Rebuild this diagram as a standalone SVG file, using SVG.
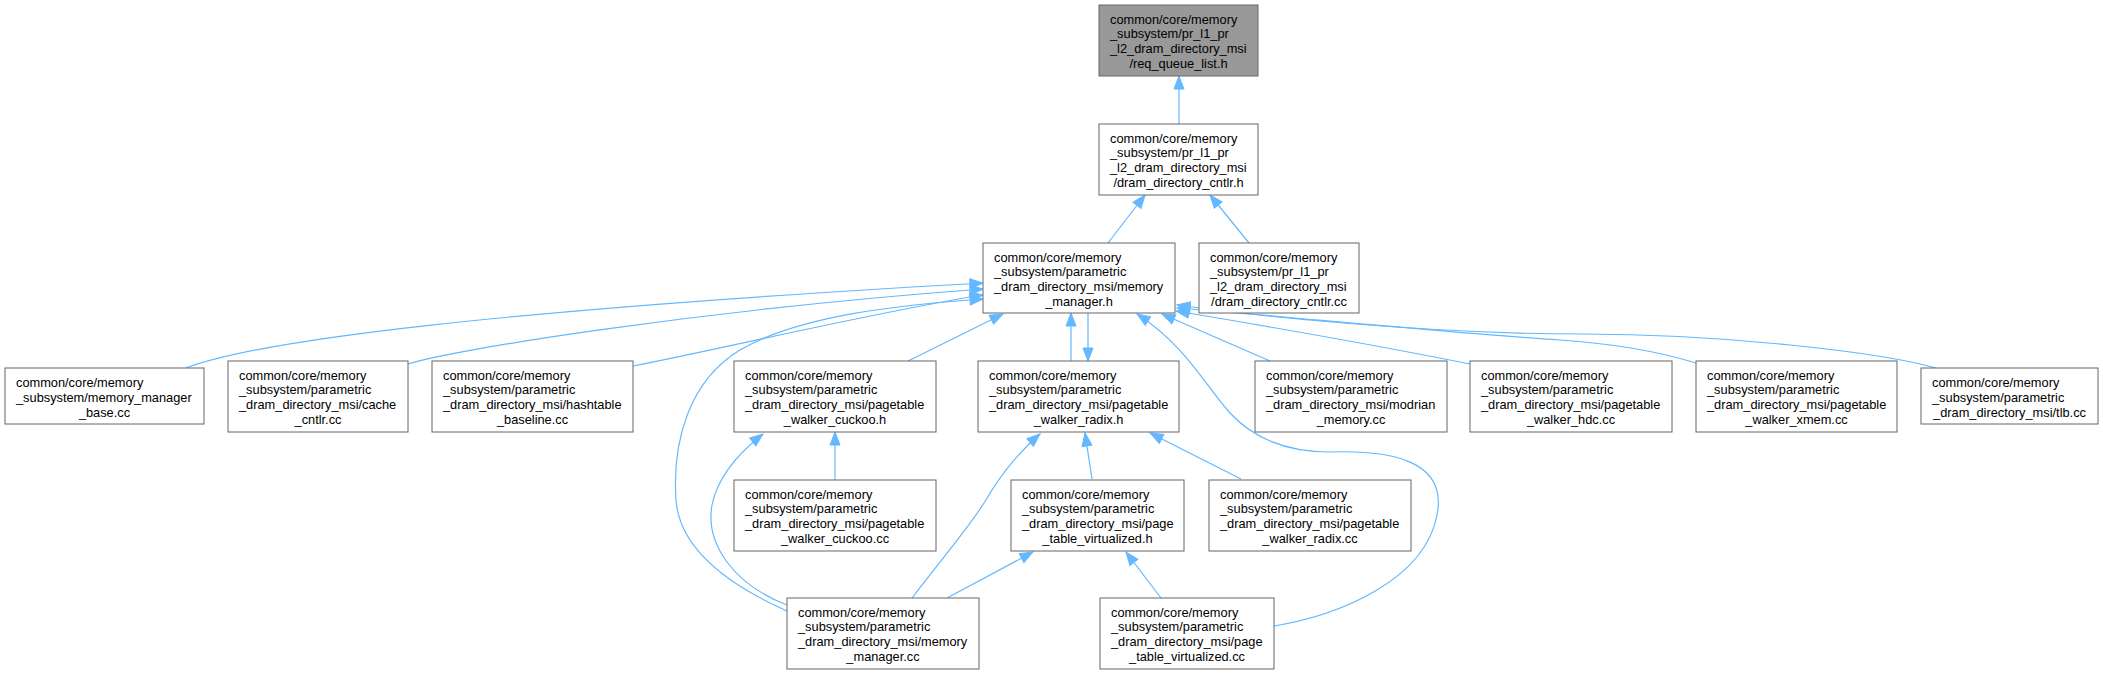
<svg xmlns="http://www.w3.org/2000/svg" width="2103" height="675" viewBox="0 0 2103 675">
<defs>
<style>
.n rect{fill:#ffffff;stroke:#666666;stroke-width:1}
.n.g rect{fill:#999999}
.n text{font-family:"Liberation Sans",Arial,Helvetica,sans-serif;font-size:12.8px;fill:#000000}
.c{text-anchor:middle}
#edges path{fill:none;stroke:#63b8ff;stroke-width:1.2;marker-end:url(#ah)}
</style>
<marker id="ah" markerUnits="userSpaceOnUse" markerWidth="14" markerHeight="11" refX="13" refY="5" orient="auto" overflow="visible">
<path d="M0,0 L13,5 L0,10 z" fill="#63b8ff" stroke="#63b8ff" stroke-width="1"/>
</marker>
</defs>
<rect x="0" y="0" width="2103" height="675" fill="#ffffff"/>

<g id="edges">
<path d="M1179,124 L1179,76"/>
<path d="M1108,243 L1145,195"/>
<path d="M1249,243 L1210,195"/>
<path d="M186,368 C260,340 500,310 983,283"/>
<path d="M408,364 C450,350 700,310 983,289"/>
<path d="M633,366 C730,347 880,311 983,295"/>
<path d="M787,611 C740,590 680,555 676,500 C672,440 690,380 740,350 C800,315 900,305 983,299"/>
<path d="M908,361 L1003,314"/>
<path d="M1071,361 L1071,313"/>
<path d="M1088,313 L1088,361"/>
<path d="M1274,626 C1340,615 1425,580 1437,515 C1448,460 1390,450 1330,452 C1290,452 1255,440 1230,413 C1205,385 1185,345 1137,314"/>
<path d="M1270,361 L1162,314"/>
<path d="M1470,364 C1400,350 1260,325 1176,311"/>
<path d="M1696,363 C1660,352 1620,344 1560,340 C1450,333 1260,314 1177,308"/>
<path d="M1936,368 C1880,352 1720,334 1583,334 C1420,334 1250,315 1177,305"/>
<path d="M835,480 L835,432"/>
<path d="M787,605 C735,585 705,545 712,505 C718,475 740,452 763,434"/>
<path d="M912,598 C945,555 975,520 992,490 C1010,462 1025,447 1040,434"/>
<path d="M1092,479 L1085,433"/>
<path d="M1241,479 L1150,433"/>
<path d="M947,598 L1033,552"/>
<path d="M1161,598 L1126,552"/>
</g>

<g id="n_req" class="n g">
<rect x="1099" y="5" width="159" height="71"/>
<text><tspan x="1110" y="23.5">common/core/memory</tspan><tspan x="1110" y="38.4">_subsystem/pr_l1_pr</tspan><tspan x="1110" y="53.3">_l2_dram_directory_msi</tspan><tspan class="c" x="1178.5" y="68.2">/req_queue_list.h</tspan></text>
</g>
<g id="n_ddc_h" class="n">
<rect x="1099" y="124" width="159" height="71"/>
<text><tspan x="1110" y="142.5">common/core/memory</tspan><tspan x="1110" y="157.4">_subsystem/pr_l1_pr</tspan><tspan x="1110" y="172.3">_l2_dram_directory_msi</tspan><tspan class="c" x="1178.5" y="187.2">/dram_directory_cntlr.h</tspan></text>
</g>
<g id="n_mm_h" class="n">
<rect x="983" y="243" width="192" height="70"/>
<text><tspan x="994" y="261.5">common/core/memory</tspan><tspan x="994" y="276.4">_subsystem/parametric</tspan><tspan x="994" y="291.3">_dram_directory_msi/memory</tspan><tspan class="c" x="1079" y="306.2">_manager.h</tspan></text>
</g>
<g id="n_ddc_cc" class="n">
<rect x="1199" y="243" width="160" height="70"/>
<text><tspan x="1210" y="261.5">common/core/memory</tspan><tspan x="1210" y="276.4">_subsystem/pr_l1_pr</tspan><tspan x="1210" y="291.3">_l2_dram_directory_msi</tspan><tspan class="c" x="1279" y="306.2">/dram_directory_cntlr.cc</tspan></text>
</g>
<g id="n_mmb" class="n">
<rect x="5" y="368" width="199" height="56"/>
<text><tspan x="16" y="387">common/core/memory</tspan><tspan x="16" y="402">_subsystem/memory_manager</tspan><tspan class="c" x="104.5" y="417">_base.cc</tspan></text>
</g>
<g id="n_cache" class="n">
<rect x="228" y="361" width="180" height="71"/>
<text><tspan x="239" y="379.5">common/core/memory</tspan><tspan x="239" y="394.4">_subsystem/parametric</tspan><tspan x="239" y="409.3">_dram_directory_msi/cache</tspan><tspan class="c" x="318" y="424.2">_cntlr.cc</tspan></text>
</g>
<g id="n_hash" class="n">
<rect x="432" y="361" width="201" height="71"/>
<text><tspan x="443" y="379.5">common/core/memory</tspan><tspan x="443" y="394.4">_subsystem/parametric</tspan><tspan x="443" y="409.3">_dram_directory_msi/hashtable</tspan><tspan class="c" x="532.5" y="424.2">_baseline.cc</tspan></text>
</g>
<g id="n_ck_h" class="n">
<rect x="734" y="361" width="202" height="71"/>
<text><tspan x="745" y="379.5">common/core/memory</tspan><tspan x="745" y="394.4">_subsystem/parametric</tspan><tspan x="745" y="409.3">_dram_directory_msi/pagetable</tspan><tspan class="c" x="835" y="424.2">_walker_cuckoo.h</tspan></text>
</g>
<g id="n_rx_h" class="n">
<rect x="978" y="361" width="201" height="71"/>
<text><tspan x="989" y="379.5">common/core/memory</tspan><tspan x="989" y="394.4">_subsystem/parametric</tspan><tspan x="989" y="409.3">_dram_directory_msi/pagetable</tspan><tspan class="c" x="1078.5" y="424.2">_walker_radix.h</tspan></text>
</g>
<g id="n_mod" class="n">
<rect x="1255" y="361" width="192" height="71"/>
<text><tspan x="1266" y="379.5">common/core/memory</tspan><tspan x="1266" y="394.4">_subsystem/parametric</tspan><tspan x="1266" y="409.3">_dram_directory_msi/modrian</tspan><tspan class="c" x="1351" y="424.2">_memory.cc</tspan></text>
</g>
<g id="n_hdc" class="n">
<rect x="1470" y="361" width="202" height="71"/>
<text><tspan x="1481" y="379.5">common/core/memory</tspan><tspan x="1481" y="394.4">_subsystem/parametric</tspan><tspan x="1481" y="409.3">_dram_directory_msi/pagetable</tspan><tspan class="c" x="1571" y="424.2">_walker_hdc.cc</tspan></text>
</g>
<g id="n_xmem" class="n">
<rect x="1696" y="361" width="201" height="71"/>
<text><tspan x="1707" y="379.5">common/core/memory</tspan><tspan x="1707" y="394.4">_subsystem/parametric</tspan><tspan x="1707" y="409.3">_dram_directory_msi/pagetable</tspan><tspan class="c" x="1796.5" y="424.2">_walker_xmem.cc</tspan></text>
</g>
<g id="n_tlb" class="n">
<rect x="1921" y="368" width="177" height="56"/>
<text><tspan x="1932" y="387">common/core/memory</tspan><tspan x="1932" y="402">_subsystem/parametric</tspan><tspan class="c" x="2009.5" y="417">_dram_directory_msi/tlb.cc</tspan></text>
</g>
<g id="n_ck_cc" class="n">
<rect x="734" y="480" width="202" height="71"/>
<text><tspan x="745" y="498.5">common/core/memory</tspan><tspan x="745" y="513.4">_subsystem/parametric</tspan><tspan x="745" y="528.3">_dram_directory_msi/pagetable</tspan><tspan class="c" x="835" y="543.2">_walker_cuckoo.cc</tspan></text>
</g>
<g id="n_ptv_h" class="n">
<rect x="1011" y="480" width="173" height="71"/>
<text><tspan x="1022" y="498.5">common/core/memory</tspan><tspan x="1022" y="513.4">_subsystem/parametric</tspan><tspan x="1022" y="528.3">_dram_directory_msi/page</tspan><tspan class="c" x="1097.5" y="543.2">_table_virtualized.h</tspan></text>
</g>
<g id="n_rx_cc" class="n">
<rect x="1209" y="480" width="202" height="71"/>
<text><tspan x="1220" y="498.5">common/core/memory</tspan><tspan x="1220" y="513.4">_subsystem/parametric</tspan><tspan x="1220" y="528.3">_dram_directory_msi/pagetable</tspan><tspan class="c" x="1310" y="543.2">_walker_radix.cc</tspan></text>
</g>
<g id="n_mm_cc" class="n">
<rect x="787" y="598" width="192" height="71"/>
<text><tspan x="798" y="616.5">common/core/memory</tspan><tspan x="798" y="631.4">_subsystem/parametric</tspan><tspan x="798" y="646.3">_dram_directory_msi/memory</tspan><tspan class="c" x="883" y="661.2">_manager.cc</tspan></text>
</g>
<g id="n_ptv_cc" class="n">
<rect x="1100" y="598" width="174" height="71"/>
<text><tspan x="1111" y="616.5">common/core/memory</tspan><tspan x="1111" y="631.4">_subsystem/parametric</tspan><tspan x="1111" y="646.3">_dram_directory_msi/page</tspan><tspan class="c" x="1187" y="661.2">_table_virtualized.cc</tspan></text>
</g>
</svg>
